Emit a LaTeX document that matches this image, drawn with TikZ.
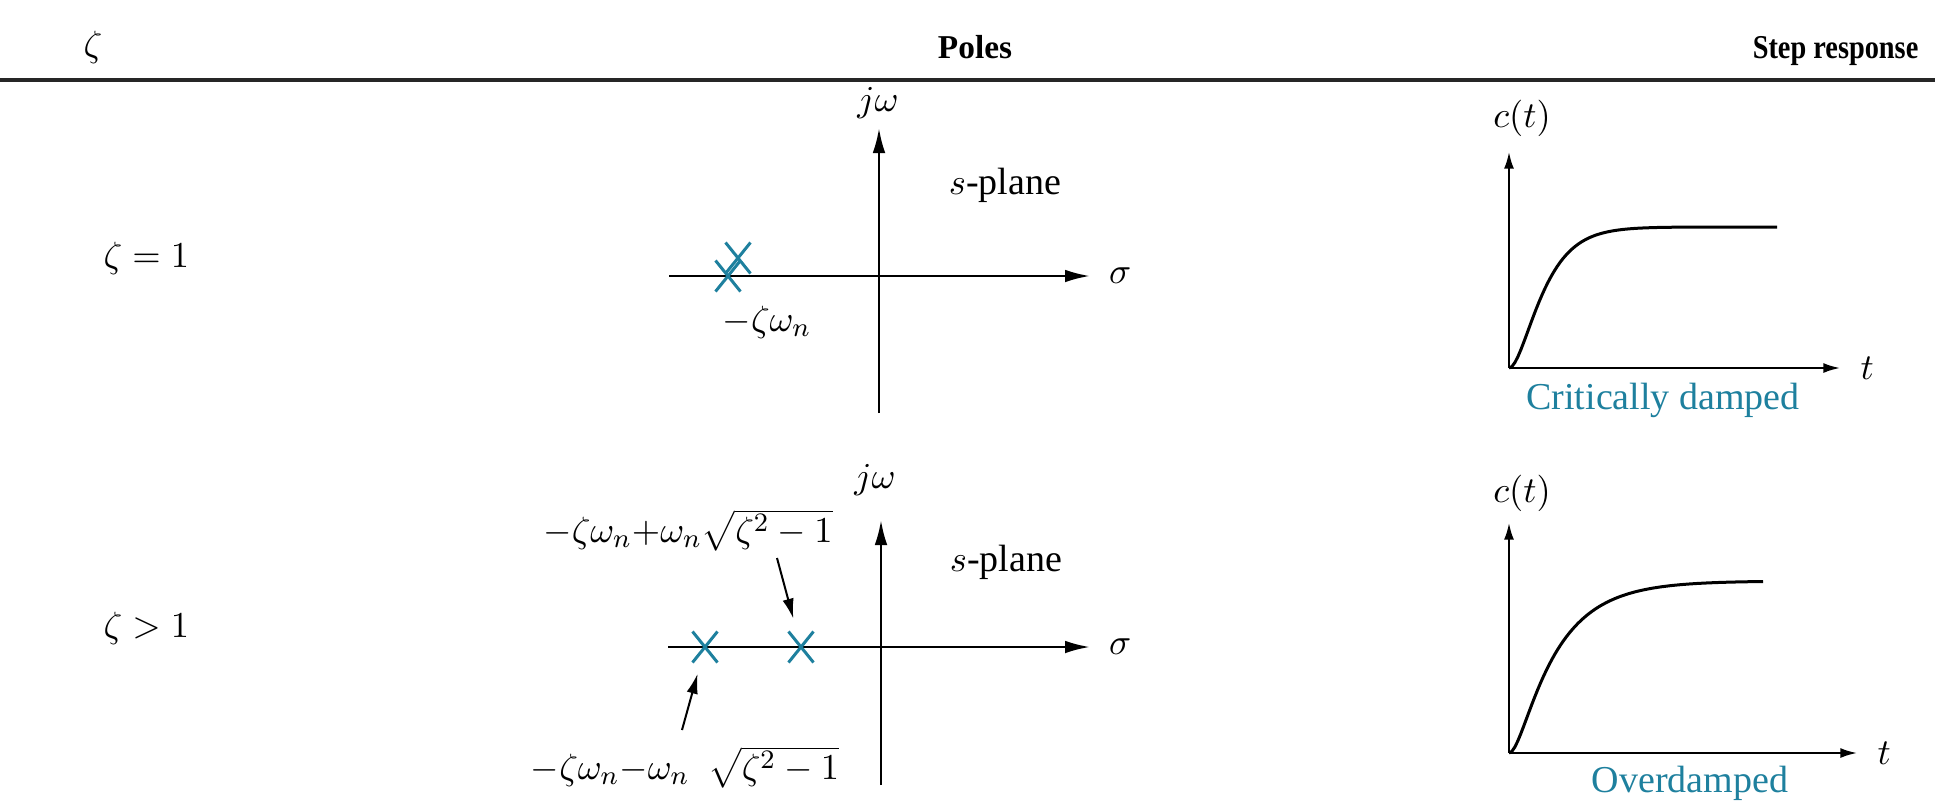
\documentclass[tikz,border=0pt]{standalone}
\usepackage{fontspec}
\setmainfont{Liberation Serif}
\usetikzlibrary{arrows.meta,shapes.misc,positioning}

\definecolor{poleteal}{RGB}{30,128,158}

\begin{document}
\begin{tikzpicture}[
  x=0.3pt, y=-0.3pt,
  every node/.style={font=\fontsize{11.4}{13.7}\selectfont,inner sep=0pt},
  head/.style={font=\fontsize{10}{12}\selectfont\bfseries},
  caption/.style={text=poleteal},
  axis/.style={line width=0.75pt,-{Latex[length=7.5pt,width=3.8pt]}},
  saxis/.style={line width=0.6pt,-{Latex[length=5pt,width=3pt]}},
  pointer/.style={line width=0.6pt,-{Latex[length=6pt,width=3.4pt]}},
  pole/.style={draw=poleteal,cross out,line width=0.9pt,minimum width=6.6pt,minimum height=8.4pt},
  resp/.style={line width=0.9pt}
]
  \useasboundingbox (0,0) rectangle (1935,806);

  % table head
  \node (zetah) at (93,47) {$\zeta$};
  \node[head,anchor=base] (polesh) at (975,58) {Poles};
  \node[head,anchor=base east] (steph) at (1919,58) {\scalebox{0.85}[1]{Step response}};
  \draw[line width=1.2pt,black!85] (0,80) -- (1935,80);

  % row labels
  \node[anchor=west] (rowone) at (103,258) {$\zeta = 1$};
  \node[anchor=west] (rowtwo) at (103,628) {$\zeta > 1$};

  % s-plane, critically damped
  \coordinate (wa) at (669,276);
  \coordinate (ea) at (1090,276);
  \coordinate (sa) at (879,413);
  \coordinate (na) at (879,128);
  \draw[axis] (wa) -- (ea);
  \draw[axis] (sa) -- (na);
  \node (jwa) at (878,103) {$j\omega$};
  \node[right=5.5pt of ea] (siga) {$\sigma$};
  \node (spa) at (1005,185) {$s$-plane};
  \node[pole] (pa) at (728,276) {};
  \node[pole] (pb) at (738,258) {};
  \node (lba) at (767,322) {$-\zeta\omega_n$};

  % s-plane, overdamped
  \coordinate (wb) at (668,647);
  \coordinate (eb) at (1090,647);
  \coordinate (sb) at (881,785);
  \coordinate (nb) at (881,520);
  \draw[axis] (wb) -- (eb);
  \draw[axis] (sb) -- (nb);
  \node (jwb) at (875,480) {$j\omega$};
  \node[right=5.5pt of eb] (sigb) {$\sigma$};
  \node (spb) at (1006,562) {$s$-plane};
  \node[pole] (pc) at (705,647) {};
  \node[pole] (pd) at (801,647) {};
  \node (lbup) at (688,530) {$-\zeta\omega_n{+}\omega_n\sqrt{\zeta^2-1}$};
  \node (lblo) at (685,767) {$-\zeta\omega_n{-}\omega_n\enspace\sqrt{\zeta^2-1}$};
  \coordinate (tup) at (777,558);
  \coordinate (tlo) at (682,730);
  \draw[pointer,shorten >=4pt] (tup) -- (pd);
  \draw[pointer,shorten >=3.5pt] (tlo) -- (pc);

  % step response, critically damped
  \coordinate (oa) at (1509,368);
  \coordinate (ya) at (1509,152);
  \coordinate (xa) at (1840,368);
  \draw[saxis] (oa) -- (ya);
  \draw[saxis] (oa) -- (xa);
  \node (cta) at (1522,118) {$c(t)$};
  \node[right=6pt of xa] (ta) {$t$};
  \draw[resp] plot[domain=0:268,samples=90]
    ({1509+\x},{368-141*(1-(1+\x/19)*exp(-\x/19))});
  \node[caption] (capa) at (1663,400) {Critically damped};

  % step response, overdamped
  \coordinate (ob) at (1509,753);
  \coordinate (yb) at (1509,523);
  \coordinate (xb) at (1857,753);
  \draw[saxis] (ob) -- (yb);
  \draw[saxis] (ob) -- (xb);
  \node (ctb) at (1522,493) {$c(t)$};
  \node[right=6pt of xb] (tb) {$t$};
  \draw[resp] plot[domain=0:254,samples=90]
    ({1509+\x},{753-172*(1-(42*exp(-\x/42)-9*exp(-\x/9))/33)});
  \node[caption] (capb) at (1690,783) {Overdamped};
\end{tikzpicture}
\end{document}
